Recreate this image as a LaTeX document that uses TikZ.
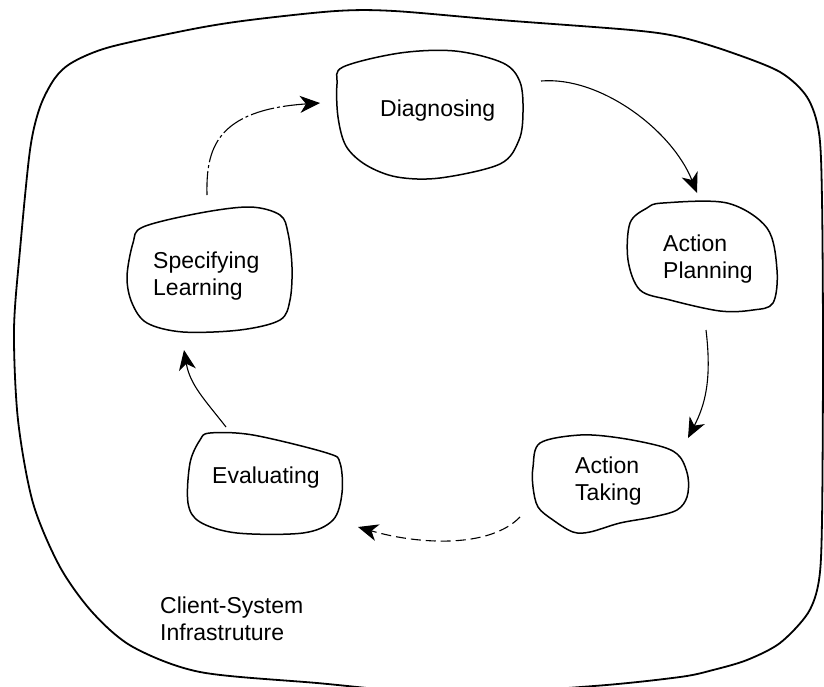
\documentclass[tikz,border=0pt]{standalone}
\usepackage{fontspec}
\setmainfont{Liberation Sans}
\usetikzlibrary{arrows.meta,calc}
\begin{document}
\begin{tikzpicture}[x=1pt,y=-1pt,
  blob/.style={line width=1.5pt, line join=round},
  outer/.style={line width=1.8pt, line join=round},
  lbl/.style={inner sep=0pt, anchor=north west, align=left, font=\fontsize{23}{27}\selectfont},
  area/.style={draw=none, inner sep=0pt, rectangle},
  flow/.style={line width=1.1pt, -{Stealth[length=20pt,width=17pt,inset=6pt]}},
  flowdash/.style={flow, dash pattern=on 10pt off 5pt},
  flowdot/.style={flow, dash pattern=on 24pt off 3pt on 3pt off 3pt},
]
\useasboundingbox (0,0) rectangle (824,686);
\fill[white] (0,0) rectangle (824,686);
\begin{scope}
\clip (0,0) rectangle (824,686);
\draw[outer] plot[smooth cycle, tension=0.5] coordinates {
 (250,20) (336,11) (394,11) (500,20) (631,30) (680,37) (730,52) (780,72)
 (807,97) (819,133) (822,200) (823,350) (822,520) (819,580) (808,613)
 (780,643) (747,660) (713,670) (680,677) (594,686) (450,694) (317,683)
 (200,672) (133,647) (93,613) (60,567) (33,503) (18,420) (14,330) (20,250)
 (30,150) (40,107) (55,78) (73,62) (110,47) (193,29)};
\end{scope}

% stage areas
\node[area, minimum width=187pt, minimum height=127pt] (dia) at (429.5,115.5) {};
\node[area, minimum width=151pt, minimum height=108pt] (plan) at (702.5,257) {};
\node[area, minimum width=155pt, minimum height=99pt] (take) at (610.5,484.5) {};
\node[area, minimum width=154pt, minimum height=100pt] (eval) at (265,483) {};
\node[area, minimum width=165pt, minimum height=125pt] (spec) at (209.5,269.5) {};

% blobs
\draw[blob] plot[smooth cycle, tension=0.55] coordinates {
 (343,67) (400,53) (455,51) (503,63) (520,82) (523,112) (519,140) (500,164)
 (440,178) (397,177) (366,165) (346,146) (338,117) (337,84)};
\draw[blob] plot[smooth cycle, tension=0.55] coordinates {
 (663,203) (727,203) (767,228) (777,270) (773,303) (753,310) (720,311)
 (670,300) (640,290) (628,260) (630,223) (647,208)};
\draw[blob] plot[smooth cycle, tension=0.55] coordinates {
 (540,443) (580,435) (620,438) (663,447) (680,457) (688,477) (687,497)
 (677,510) (653,517) (620,523) (590,532) (573,532) (553,520) (538,507)
 (533,487) (533,467)};
\draw[blob] plot[smooth cycle, tension=0.55] coordinates {
 (210,433) (253,435) (327,453) (340,463) (342,493) (333,520) (303,533)
 (237,533) (200,522) (188,503) (190,463) (200,440)};
\draw[blob] plot[smooth cycle, tension=0.55] coordinates {
 (143,227) (200,213) (250,207) (280,215) (288,233) (292,267) (290,300)
 (280,320) (240,330) (183,332) (147,323) (132,303) (127,277) (133,243)};

% labels
\node[lbl] (tdia) at (380,100) {Diagnosing};
\node[lbl] (tplan) at (663,235) {Action\\Planning};
\node[lbl] (ttake) at (575,457) {Action\\Taking};
\node[lbl] (teval) at (212,467) {Evaluating};
\node[lbl] (tspec) at (153,252) {Specifying\\Learning};
\node[lbl] (tcsi) at (160,597) {Client-System\\Infrastruture};

% connector ends
\coordinate (a1s) at (541,81);   \coordinate (a1e) at (697,193);
\coordinate (a2s) at (706,330);  \coordinate (a2e) at (688,438);
\coordinate (a3s) at (520,517);  \coordinate (a3e) at (358,527);
\coordinate (a4s) at (226,427);  \coordinate (a4e) at (184,350);
\coordinate (a5s) at (207,195);  \coordinate (a5e) at (320,103);

\draw[flow] (a1s) .. controls (600,76) and (672,130) .. (a1e);
\draw[flow] (a2s) .. controls (712,380) and (705,405) .. (a2e);
\draw[flowdash] (a3s) .. controls (490,548) and (420,545) .. (a3e);
\draw[flow] (a4s) .. controls (205,400) and (190,385) .. (a4e);
\draw[flowdot] (a5s) .. controls (206,150) and (215,110) .. (a5e);
\end{tikzpicture}
\end{document}
